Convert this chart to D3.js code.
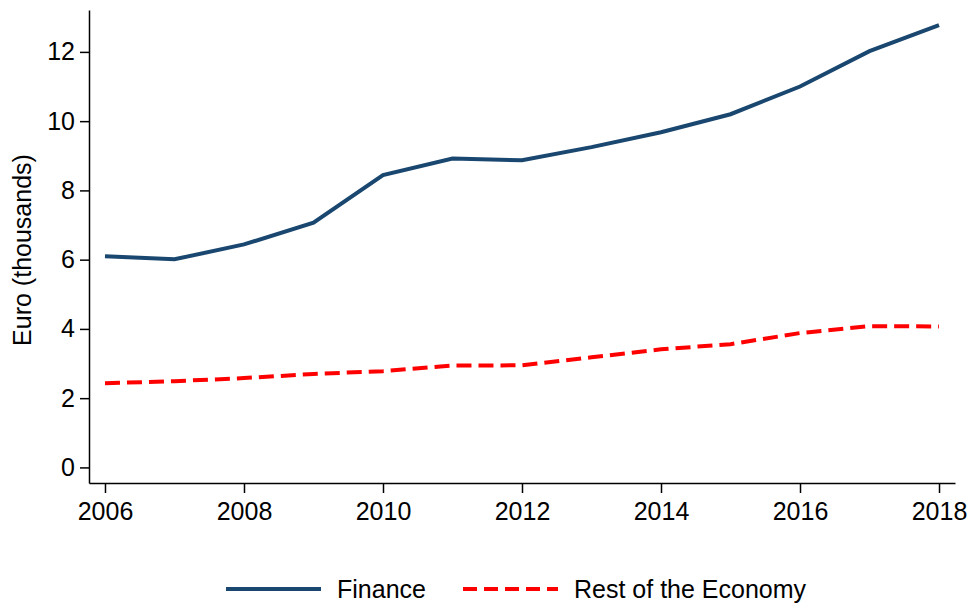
<!DOCTYPE html>
<meta charset="utf-8">
<style>
body { margin: 0; background: #fff; }
text { font-family: "Liberation Sans", Arial, sans-serif; fill: #000; }
.axis path, .axis line { stroke: #000; stroke-width: 1.5; }
</style>
<body>
<div id="chart"></div>
<script src="https://cdn.jsdelivr.net/npm/d3@7"></script>
<script>
// values (thousands of euro)
var years = [2006, 2007, 2008, 2009, 2010, 2011, 2012, 2013, 2014, 2015, 2016, 2017, 2018];
var finance = [6.10, 6.01, 6.44, 7.07, 8.44, 8.92, 8.87, 9.25, 9.68, 10.20, 11.00, 12.02, 12.77];
var restOfEconomy = [2.43, 2.49, 2.58, 2.70, 2.78, 2.94, 2.95, 3.18, 3.41, 3.56, 3.88, 4.08, 4.07];
var yTicks = [0, 2, 4, 6, 8, 10, 12];
var xTicks = [2006, 2008, 2010, 2012, 2014, 2016, 2018];

var W = 969, H = 606;
var svg = d3.select("#chart").append("svg").attr("width", W).attr("height", H);

var x = d3.scaleLinear().domain([2005.77, 2018.23]).range([89, 955]);
var y = d3.scaleLinear().domain([-0.45, 13.21]).range([483, 10]);

// axes
svg.append("g").attr("class", "axis")
    .attr("transform", "translate(89,0)")
    .call(d3.axisLeft(y).tickValues(yTicks).tickSize(9).tickPadding(5).tickSizeOuter(0))
    .call(g => g.selectAll("text").style("font-size", "25px"));

svg.append("g").attr("class", "axis")
    .attr("transform", "translate(0,483)")
    .call(d3.axisBottom(x).tickValues(xTicks).tickFormat(d3.format("d")).tickSize(10).tickPadding(9).tickSizeOuter(0))
    .call(g => g.selectAll("text").style("font-size", "25px"));

svg.append("text")
    .attr("transform", "translate(31,250) rotate(-90)")
    .attr("text-anchor", "middle")
    .style("font-size", "25px")
    .text("Euro (thousands)");

var line = d3.line()
    .x(function(d) { return x(d[0]); })
    .y(function(d) { return y(d[1]); });

var series = [
    { name: "Finance", values: finance, color: "#1a476f", dash: null },
    { name: "Rest of the Economy", values: restOfEconomy, color: "#ff0000", dash: "15,7" }
];

series.forEach(function(s) {
    svg.append("path")
        .datum(years.map(function(yr, i) { return [yr, s.values[i]]; }))
        .attr("d", line)
        .attr("fill", "none")
        .attr("stroke", s.color)
        .attr("stroke-width", 4)
        .attr("stroke-dasharray", s.dash);
});

// legend
var legendX = [226, 463];
series.forEach(function(s, i) {
    var g = svg.append("g").attr("transform", "translate(" + legendX[i] + ",589)");
    g.append("line")
        .attr("x1", 0).attr("x2", 95).attr("y1", 0).attr("y2", 0)
        .attr("stroke", s.color).attr("stroke-width", 4)
        .attr("stroke-dasharray", s.dash ? "14,7" : null);
    g.append("text")
        .attr("x", 111).attr("y", 9)
        .style("font-size", "25px")
        .text(s.name);
});
</script>
</body>
